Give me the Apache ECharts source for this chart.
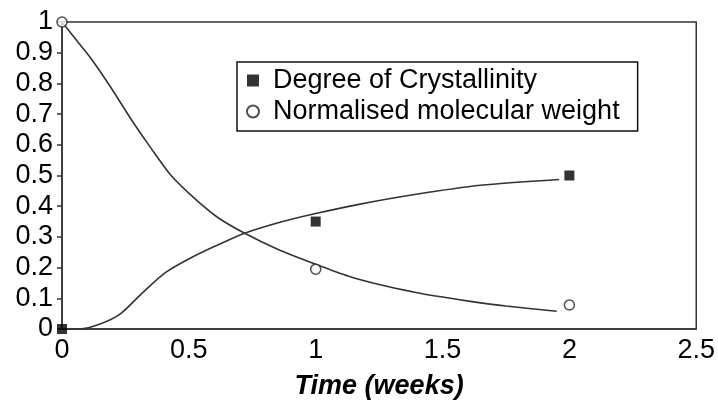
<!DOCTYPE html>
<html>
<head>
<meta charset="utf-8">
<script src="https://cdn.jsdelivr.net/npm/echarts@6/dist/echarts.min.js"></script>
<style>
  html, body { margin: 0; padding: 0; background: #fff; }
  #chart { width: 718px; height: 405px; }
</style>
</head>
<body>
<div id="chart"></div>
<script>
// Measured samples
const sampleWeeks = [0, 1, 2];
const crystallinity = [0, 0.35, 0.5];
const molecularWeight = [1, 0.195, 0.078];

// Fitted model curves
const crFitWeeks = [0, 0.07, 0.15, 0.23, 0.32, 0.41, 0.52, 0.62, 0.72, 0.87, 1.0, 1.17, 1.39, 1.65, 1.96];
const crFitValues = [0, 0, 0.016, 0.049, 0.12, 0.185, 0.237, 0.276, 0.312, 0.35, 0.376, 0.406, 0.438, 0.468, 0.487];
const mwFitWeeks = [0, 0.058, 0.11, 0.19, 0.275, 0.35, 0.43, 0.53, 0.62, 0.72, 0.85, 1.0, 1.13, 1.25, 1.39, 1.5, 1.61, 1.75, 1.95];
const mwFitValues = [1, 0.94, 0.886, 0.79, 0.68, 0.59, 0.5, 0.42, 0.36, 0.312, 0.26, 0.211, 0.172, 0.145, 0.12, 0.104, 0.09, 0.075, 0.058];

const xTicks = { min: 0, max: 2.5, interval: 0.5 };
const yTicks = { min: 0, max: 1, interval: 0.1 };

const pairs = (xs, ys) => xs.map((x, i) => [x, ys[i]]);
const FONT = '"Liberation Sans", Arial, sans-serif';
const INK = '#333';

const chart = echarts.init(document.getElementById('chart'), null, { renderer: 'canvas' });
chart.setOption({
  animation: false,
  backgroundColor: '#fff',
  grid: {
    left: 62, top: 22, right: 19, bottom: 75,
    show: true, borderColor: INK, borderWidth: 1.5, backgroundColor: 'transparent'
  },
  legend: {
    orient: 'vertical',
    left: 237, top: 62,
    padding: [5, 18, 6, 9],
    itemGap: 4,
    itemWidth: 12, itemHeight: 12,
    borderColor: '#111', borderWidth: 1.5,
    data: ['Degree of Crystallinity', 'Normalised molecular weight'],
    textStyle: { fontFamily: FONT, fontSize: 27, color: '#000', padding: [0, 0, 0, 9] }
  },
  xAxis: {
    type: 'value',
    min: xTicks.min, max: xTicks.max, interval: xTicks.interval,
    name: 'Time (weeks)',
    nameLocation: 'middle',
    nameGap: 44,
    nameTextStyle: { fontFamily: FONT, fontSize: 27, fontWeight: 'bold', fontStyle: 'italic', color: '#000' },
    axisLine: { show: true, lineStyle: { color: INK, width: 1.5 } },
    axisTick: { show: false },
    splitLine: { show: false },
    axisLabel: { fontFamily: FONT, fontSize: 27, color: '#000', margin: 8 }
  },
  yAxis: {
    type: 'value',
    min: yTicks.min, max: yTicks.max, interval: yTicks.interval,
    axisLine: { show: true, lineStyle: { color: INK, width: 1.5 } },
    axisTick: { show: true, inside: false, length: 5, lineStyle: { color: INK, width: 1.5 } },
    splitLine: { show: false },
    axisLabel: { fontFamily: FONT, fontSize: 27, color: '#000', margin: 9 }
  },
  series: [
    {
      name: 'Degree of Crystallinity fit',
      type: 'line',
      data: pairs(crFitWeeks, crFitValues),
      showSymbol: false, smooth: 0.25,
      lineStyle: { color: INK, width: 1.6 },
      z: 2
    },
    {
      name: 'Normalised molecular weight fit',
      type: 'line',
      data: pairs(mwFitWeeks, mwFitValues),
      showSymbol: false, smooth: 0.25,
      lineStyle: { color: INK, width: 1.6 },
      z: 2
    },
    {
      name: 'Degree of Crystallinity',
      type: 'scatter',
      data: pairs(sampleWeeks, crystallinity),
      symbol: 'rect', symbolSize: 10,
      itemStyle: { color: '#000' },
      z: 3
    },
    {
      name: 'Normalised molecular weight',
      type: 'scatter',
      data: pairs(sampleWeeks, molecularWeight),
      symbol: 'circle', symbolSize: 10,
      itemStyle: { color: '#fff', borderColor: '#222', borderWidth: 1.5 },
      z: 3
    }
  ]
});
</script>
</body>
</html>
